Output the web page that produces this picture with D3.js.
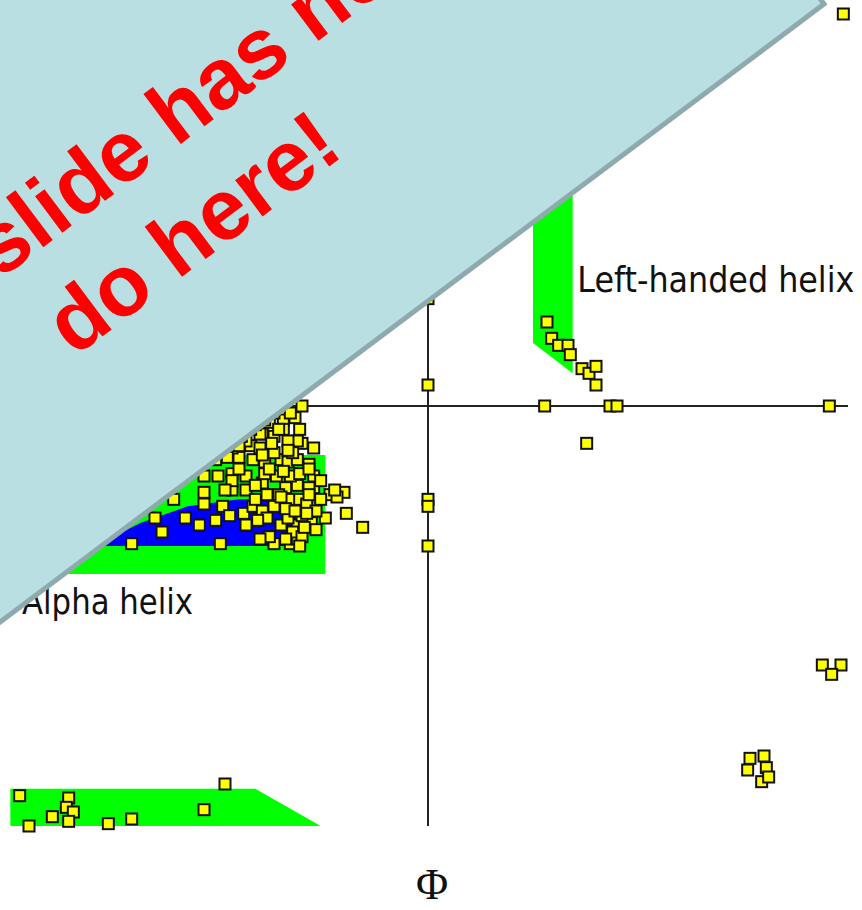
<!DOCTYPE html>
<html>
<head>
<meta charset="utf-8">
<script src="https://cdn.jsdelivr.net/npm/d3@7"></script>
<style>
  html, body { margin: 0; padding: 0; background: #fff; }
  svg { display: block; }
</style>
</head>
<body>
<svg id="chart" width="862" height="910"></svg>
<script>
// ---- Data (Phi, Psi in degrees) ----
const alphaPoints = [
  [-54,0],[-127,-59],[-114,-54],[-117,-48],[-104,-48],[-98,-51],[-109,-40],[-89,-59],
  [-96,-30],[-96,-37],[-96,-42],[-88,-43],[-84,-36],[-84,-29],[-78,-30],[-79,-46],
  [-75,-43],[-71,-33],[-69,-38],[-66,-59],[-59,-59],[-56,-57],[-68,-56],[-63,-51],
  [-56,-51],[-50,-50],[-44,-48],[-35,-46],[-28,-52],[-36,-37],[-42,-38],[-39,-39],
  [-49,-35],[-49,-30],[-51,-25],[-49,-18],[-54,-16],[-56,-15],[-60,-15],[-66,-13],
  [-71,-12],[-63,-23],[-70,-24],[-75,-23],[-81,-22],[-76,-17],[-72,-18],[-57,-5],
  [-62,-6],[-59,-3],[-68,-7],[-72,-12],[-78,-15],[-84,-18],[-90,-30],[-84,-32],
  [-78,-36],[-71,-45],[-66,-43],[-59,-40],[-55,-40],[-61,-35],[-56,-34],[-51,-35],
  [-65,-30],[-59,-30],[-55,-29],[-60,-24],[-56,-23],[-52,-42],[-54,-47],[-60,-48],
  [-69,-48],[-73,-49],[-48,-45],[-58,-54],[-54,-56],[-91,-23],[-66,-20],[-61,-44],
  [-64,-38],[-53,-52],[-70,-29],[-62,-10],[-74,-40],[-58,-20],
  [-70,-6],[-64,-10],[-76,-10],[-81,-17],[-60,-19],[-68,-27],[-74,-34],[-81,-27],
  [-87,-36],[-63,-39],[-57,-45],[-51,-38],[-46,-40],[-48,-53],[-61,-57],[-55,-60],
  [-72,-57],[-78,-51],[-85,-47],[-91,-49],[-71,-21],[-55,-10],[-51,-27],[-46,-32],
  [-40,-36],[-66,-3],[-74,-8],[-80,-13],[-67,-16],[-86,-22],[-62,-28],[-52,-46]
];
const leftHandedPoints = [
  [51,36],[53,29],[56,26],[60,26],[61,22],[66,16],[69,14],[72,17],[72,9],[68,-16]
];
const axisPoints = [
  [0,46],[0,9],[0,-40],[0,-43],[0,-60],[50,0],[78,0],[81,0],[172,0]
];
const betaPoints = [
  [-175,-167],[-171,-180],[-161,-176],[-154,-168],[-155,-172],[-152,-174],[-154,-178],
  [-137,-179],[-127,-177],[-96,-173],[-87,-162]
];
const otherPoints = [
  [178,168],[169,-111],[177,-111],[173,-115],[138,-151],[144,-150],[137,-156],
  [145,-155],[143,-161],[146,-159]
];

// allowed-region polygons
const alphaRegion = [[-180,-21],[-44,-21],[-44,-72],[-180,-72]];
const coreAlphaRegion = [[-158,-60],[-141,-59],[-123,-50],[-103,-43],[-81,-40],[-55,-40],[-55,-60]];
const leftHandedRegion = [[45,100],[62,100],[62,14],[45,27]];
const betaWrapRegion = [[-179,-164],[-74,-164],[-46,-180],[-179,-180]];

const regionLabels = [
  {text: "Left-handed helix", phi: 64, psi: 49, len: 277},
  {text: "Alpha helix", phi: -174, psi: -89, len: 171}
];
const axisLabel = "Φ";
const bannerLines = ["This slide has nothing to", "do here!"];

// ---- Scales ----
const x = d3.scaleLinear().domain([-180, 180]).range([8, 848]);
const y = d3.scaleLinear().domain([-180, 180]).range([826, -14]);

const svg = d3.select("#chart");
const poly = pts => pts.map(p => [x(p[0]), y(p[1])].join(",")).join(" ");

const regions = [
  {pts: alphaRegion, fill: "#00ff00"},
  {pts: coreAlphaRegion, fill: "#0000ff"},
  {pts: leftHandedRegion, fill: "#00ff00"},
  {pts: betaWrapRegion, fill: "#00ff00"}
];
svg.append("g").selectAll("polygon").data(regions).join("polygon")
  .attr("points", d => poly(d.pts)).attr("fill", d => d.fill);

// axes through origin
const ax = svg.append("g").attr("stroke", "#222").attr("stroke-width", 2);
ax.append("line").attr("x1", x(-180)).attr("x2", x(180)).attr("y1", y(0)).attr("y2", y(0));
ax.append("line").attr("x1", x(0)).attr("x2", x(0)).attr("y1", y(180)).attr("y2", y(-180));

// points
const allPoints = [].concat(betaPoints, otherPoints, axisPoints, leftHandedPoints, alphaPoints);
svg.append("g").selectAll("rect").data(allPoints).join("rect")
  .attr("x", d => x(d[0]) - 5.5).attr("y", d => y(d[1]) - 5.5)
  .attr("width", 11).attr("height", 11)
  .attr("fill", "#ffff00").attr("stroke", "#111").attr("stroke-width", 2);

// region labels
svg.append("g").selectAll("text").data(regionLabels).join("text")
  .attr("x", d => x(d.phi)).attr("y", d => y(d.psi))
  .attr("font-family", "'DejaVu Sans Condensed', 'DejaVu Sans', sans-serif")
  .attr("font-size", 36).attr("fill", "#111")
  .attr("textLength", d => d.len).attr("lengthAdjust", "spacingAndGlyphs")
  .text(d => d.text);

svg.append("text").attr("x", x(0) + 4).attr("y", 899)
  .attr("text-anchor", "middle")
  .attr("font-family", "'Liberation Serif', 'DejaVu Serif', serif")
  .attr("font-size", 44).attr("fill", "#111").text(axisLabel);

// overlay banner
const banner = svg.append("g").attr("transform", "translate(824,4) rotate(-36.87)");
banner.append("rect").attr("x", -1500).attr("y", -520).attr("width", 1500).attr("height", 520)
  .attr("fill", "#b9dfe2").attr("stroke", "#8eaaac").attr("stroke-width", 5);
banner.selectAll("text").data(bannerLines).join("text")
  .attr("x", (d, i) => i === 0 ? -1025 : -812)
  .attr("y", (d, i) => i === 0 ? -274 : -167)
  .attr("font-family", "'Liberation Sans', Arial, sans-serif")
  .attr("font-weight", "bold").attr("font-size", 86).attr("fill", "#ff0000")
  .text(d => d);
</script>
</body>
</html>
